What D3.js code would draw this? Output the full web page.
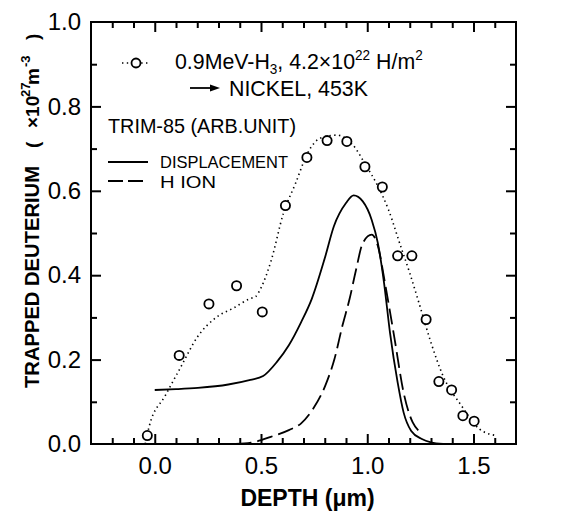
<!DOCTYPE html>
<html><head><meta charset="utf-8">
<script src="https://cdn.jsdelivr.net/npm/d3@7"></script>
<style>
body{margin:0;background:#fff}
svg{display:block}
text{font-family:Arial,"Liberation Sans",Helvetica,sans-serif;fill:#000}
</style>
</head><body>
<svg id="chart" width="576" height="512"></svg>
<script>
// ---- data ----
const measuredDepth = [-0.035, 0.115, 0.255, 0.385, 0.506, 0.615, 0.716, 0.811, 0.904, 0.989, 1.071, 1.143, 1.21, 1.277, 1.337, 1.397, 1.45, 1.503];
const measuredValue = [0.02, 0.21, 0.332, 0.375, 0.313, 0.565, 0.679, 0.719, 0.717, 0.657, 0.609, 0.446, 0.446, 0.295, 0.148, 0.128, 0.067, 0.054];

const guideDepth = [-0.045, -0.026, 0.05, 0.12, 0.2, 0.289, 0.37, 0.446, 0.476, 0.5, 0.548, 0.605, 0.662, 0.72, 0.78, 0.857, 0.93, 1.0, 1.043, 1.1, 1.157, 1.2, 1.243, 1.3, 1.357, 1.443, 1.529, 1.607];
const guideValue = [0.0, 0.042, 0.115, 0.18, 0.253, 0.30, 0.322, 0.344, 0.35, 0.37, 0.435, 0.546, 0.617, 0.69, 0.725, 0.732, 0.71, 0.655, 0.618, 0.555, 0.469, 0.405, 0.335, 0.24, 0.161, 0.091, 0.035, 0.02];

const displacementDepth = [0.0, 0.1, 0.203, 0.346, 0.45, 0.51, 0.574, 0.631, 0.689, 0.739, 0.8, 0.843, 0.9, 0.936, 0.979, 1.021, 1.05, 1.079, 1.107, 1.143, 1.171, 1.207, 1.257, 1.3, 1.357];
const displacementValue = [0.128, 0.13, 0.133, 0.141, 0.152, 0.161, 0.194, 0.234, 0.289, 0.344, 0.44, 0.516, 0.571, 0.589, 0.575, 0.531, 0.476, 0.382, 0.264, 0.146, 0.075, 0.031, 0.012, 0.004, 0.0];

const hIonDepth = [0.38, 0.453, 0.546, 0.631, 0.689, 0.746, 0.803, 0.846, 0.883, 0.917, 0.946, 0.979, 1.021, 1.05, 1.086, 1.129, 1.171, 1.214, 1.243];
const hIonValue = [0.0, 0.003, 0.017, 0.033, 0.049, 0.084, 0.139, 0.202, 0.28, 0.344, 0.41, 0.476, 0.496, 0.469, 0.374, 0.248, 0.122, 0.051, 0.031];

const xTickValues = [0.0, 0.5, 1.0, 1.5];
const xTickLabels = ["0.0", "0.5", "1.0", "1.5"];
const yTickValues = [0.0, 0.2, 0.4, 0.6, 0.8, 1.0];
const yTickLabels = ["0.0", "0.2", "0.4", "0.6", "0.8", "1.0"];

// ---- layout ----
const L = 91, R = 516, T = 22, B = 444;
const svg = d3.select("#chart");
const x = d3.scaleLinear().domain([-0.3, 1.7]).range([L, R]);
const y = d3.scaleLinear().domain([0, 1.0]).range([B, T]);

// frame
svg.append("rect").attr("x", L).attr("y", T).attr("width", R - L).attr("height", B - T)
  .attr("fill", "none").attr("stroke", "#000").attr("stroke-width", 2);

// ticks (inward)
const xAll = d3.range(-2, 17).map(d => d / 10);
const yAll = d3.range(1, 10).map(d => d / 10);
const isMajX = v => Math.abs(v * 2 - Math.round(v * 2)) < 1e-6;
const isMajY = v => Math.abs(v * 5 - Math.round(v * 5)) < 1e-6;
function tickAxis(axisFn, scale, vals, size, transform) {
  const g = svg.append("g").attr("transform", transform)
    .call(axisFn(scale).tickValues(vals).tickSize(size).tickFormat(""));
  g.select(".domain").remove();
  g.selectAll(".tick line").attr("stroke", "#000").attr("stroke-width", 2);
}
const xMaj = xAll.filter(isMajX), xMin = xAll.filter(v => !isMajX(v));
const yMaj = yAll.filter(isMajY), yMin = yAll.filter(v => !isMajY(v));
tickAxis(d3.axisBottom, x, xMaj, -10, `translate(0,${B})`);
tickAxis(d3.axisBottom, x, xMin, -6, `translate(0,${B})`);
tickAxis(d3.axisTop, x, xMaj, -10, `translate(0,${T})`);
tickAxis(d3.axisTop, x, xMin, -6, `translate(0,${T})`);
tickAxis(d3.axisLeft, y, yMaj, -10, `translate(${L},0)`);
tickAxis(d3.axisLeft, y, yMin, -6, `translate(${L},0)`);
tickAxis(d3.axisRight, y, yMaj, -10, `translate(${R},0)`);
tickAxis(d3.axisRight, y, yMin, -6, `translate(${R},0)`);

// tick labels
const xa = svg.append("g").attr("transform", `translate(0,${B})`)
  .call(d3.axisBottom(x).tickValues(xTickValues).tickSize(0).tickPadding(13)
    .tickFormat((d, i) => xTickLabels[i]));
xa.select(".domain").remove();
xa.selectAll("text").attr("font-size", 24).attr("font-family", "Arial, 'Liberation Sans', sans-serif");

const ya = svg.append("g").attr("transform", `translate(${L},0)`)
  .call(d3.axisLeft(y).tickValues(yTickValues).tickSize(0).tickPadding(10)
    .tickFormat((d, i) => yTickLabels[i]));
ya.select(".domain").remove();
ya.selectAll("text").attr("font-size", 24).attr("font-family", "Arial, 'Liberation Sans', sans-serif");

// axis titles
svg.append("text").attr("x", (L + R) / 2 + 4).attr("y", 506).attr("text-anchor", "middle")
  .attr("font-size", 23).attr("font-weight", "bold").text("DEPTH  (\u03bcm)");

const yt = svg.append("g").attr("transform", "translate(39,0) rotate(-90)");
yt.append("text").attr("x", -388).attr("y", 0).attr("font-size", 20).attr("font-weight", "bold")
  .attr("textLength", 222).attr("lengthAdjust", "spacingAndGlyphs").text("TRAPPED DEUTERIUM");
const yt2 = yt.append("text").attr("y", 0).attr("font-size", 19).attr("font-weight", "bold");
yt2.append("tspan").attr("x", -148).text("(");
yt2.append("tspan").attr("x", -128).text("\u00d710");
yt2.append("tspan").attr("x", -97).attr("font-size", 13).attr("dy", -9).text("27");
yt2.append("tspan").attr("x", -85).attr("dy", 9).text("m");
yt2.append("tspan").attr("x", -67).attr("font-size", 13).attr("dy", -9).text("-3");
yt2.append("tspan").attr("x", -40).attr("dy", 9).text(")");

// curves
const line = d3.line().x(d => x(d[0])).y(d => y(d[1])).curve(d3.curveMonotoneX);
const zip = (a, b) => a.map((v, i) => [v, b[i]]);

svg.append("path").datum(zip(guideDepth, guideValue)).attr("d", line)
  .attr("fill", "none").attr("stroke", "#000").attr("stroke-width", 1.6)
  .attr("stroke-dasharray", "1.4,3.4");
svg.append("path").datum(zip(displacementDepth, displacementValue)).attr("d", line)
  .attr("fill", "none").attr("stroke", "#000").attr("stroke-width", 1.8);
svg.append("path").datum(zip(hIonDepth, hIonValue)).attr("d", line)
  .attr("fill", "none").attr("stroke", "#000").attr("stroke-width", 1.8)
  .attr("stroke-dasharray", "16,6");

svg.append("g").selectAll("circle").data(zip(measuredDepth, measuredValue)).join("circle")
  .attr("cx", d => x(d[0])).attr("cy", d => y(d[1])).attr("r", 4.6)
  .attr("fill", "#fff").attr("stroke", "#000").attr("stroke-width", 1.8);

// legend symbols
const lg = svg.append("g");
lg.append("line").attr("x1", 122).attr("x2", 150).attr("y1", 63).attr("y2", 63)
  .attr("stroke", "#000").attr("stroke-width", 1.6).attr("stroke-dasharray", "1.4,3.4");
lg.append("circle").attr("cx", 136).attr("cy", 63).attr("r", 4.5).attr("fill", "#fff")
  .attr("stroke", "#000").attr("stroke-width", 1.8);
lg.append("line").attr("x1", 190).attr("x2", 213).attr("y1", 88).attr("y2", 88)
  .attr("stroke", "#000").attr("stroke-width", 1.8);
lg.append("path").attr("d", "M220,88 L210,84.5 L210,91.5 Z").attr("fill", "#000");
lg.append("line").attr("x1", 108).attr("x2", 148).attr("y1", 162).attr("y2", 162)
  .attr("stroke", "#000").attr("stroke-width", 1.8);
lg.append("line").attr("x1", 108).attr("x2", 148).attr("y1", 181).attr("y2", 181)
  .attr("stroke", "#000").attr("stroke-width", 1.8).attr("stroke-dasharray", "15,5");

// legend texts
const r1 = svg.append("g").attr("transform", "translate(175,69) scale(0.97,1)");
const t1 = r1.append("text").attr("x", 0).attr("y", 0).attr("font-size", 22);
t1.append("tspan").text("0.9MeV-H");
t1.append("tspan").attr("font-size", 14).attr("dy", 5).text("3");
t1.append("tspan").attr("dy", -5).text(",  4.2\u00d710");
t1.append("tspan").attr("font-size", 14).attr("dy", -9).text("22");
t1.append("tspan").attr("dy", 9).text("  H/m");
t1.append("tspan").attr("font-size", 14).attr("dy", -9).text("2");
svg.append("text").attr("x", 229).attr("y", 96).attr("font-size", 22)
  .attr("textLength", 139).attr("lengthAdjust", "spacingAndGlyphs").text("NICKEL, 453K");
svg.append("text").attr("x", 108).attr("y", 133).attr("font-size", 20)
  .attr("textLength", 188).attr("lengthAdjust", "spacingAndGlyphs").text("TRIM-85  (ARB.UNIT)");
svg.append("text").attr("x", 160).attr("y", 168).attr("font-size", 17)
  .attr("textLength", 128).attr("lengthAdjust", "spacingAndGlyphs").text("DISPLACEMENT");
svg.append("text").attr("x", 160).attr("y", 187.5).attr("font-size", 17)
  .attr("textLength", 56).attr("lengthAdjust", "spacingAndGlyphs").text("H ION");
</script>
</body></html>
